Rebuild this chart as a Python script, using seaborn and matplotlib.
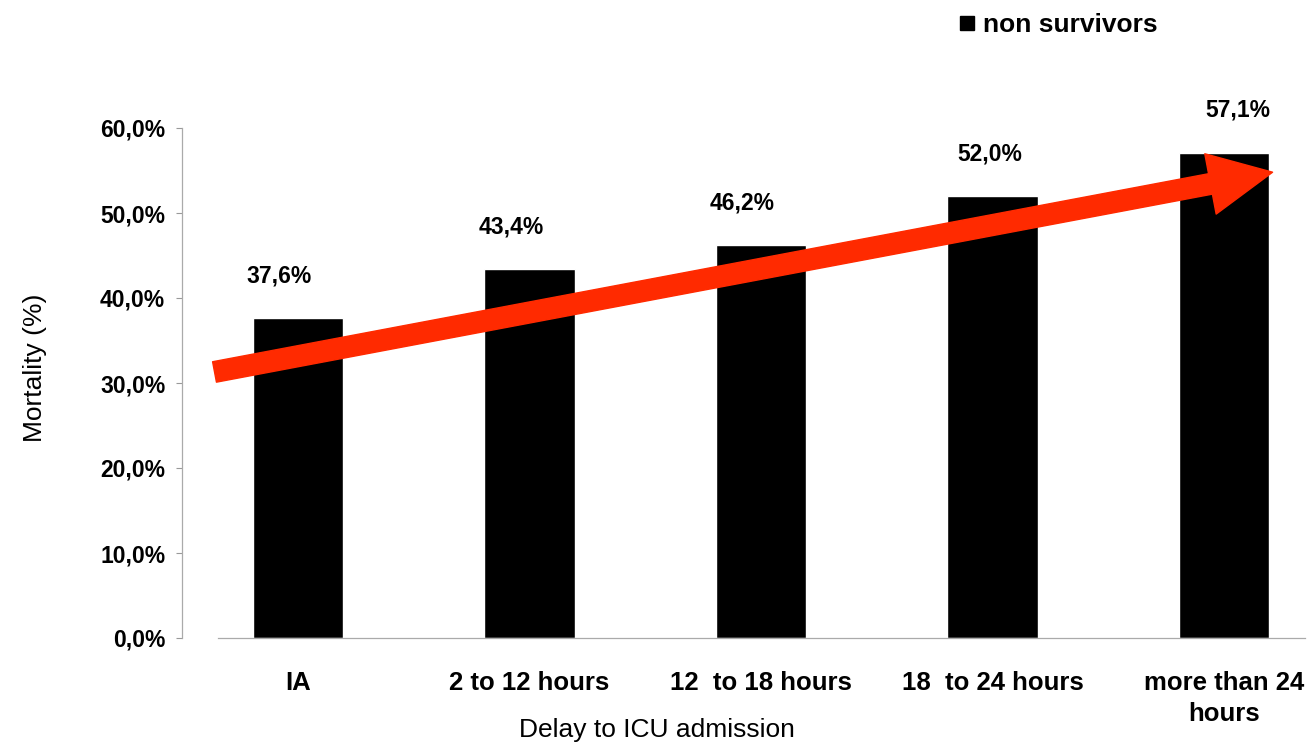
import matplotlib
matplotlib.use("Agg")
import matplotlib.pyplot as plt
from matplotlib.lines import Line2D
from matplotlib.patches import FancyArrowPatch
import seaborn as sns

# dane z wykresu
kategorie = ["IA", "2 to 12 hours", "12  to 18 hours", "18  to 24 hours", "more than 24\nhours"]
smiertelnosc = [37.6, 43.4, 46.2, 52.0, 57.1]
etykiety = ["37,6%", "43,4%", "46,2%", "52,0%", "57,1%"]
yticks = [0, 10, 20, 30, 40, 50, 60]

sns.set_style("white")
plt.rcParams["font.family"] = ["Liberation Sans", "DejaVu Sans"]
plt.rcParams["text.color"] = "black"
plt.rcParams["xtick.color"] = "black"
plt.rcParams["ytick.color"] = "black"

fig = plt.figure(figsize=(13.09, 7.43), dpi=100)
ax = fig.add_axes([218 / 1309, 1 - 638 / 743, (1305 - 218) / 1309, (638 - 128) / 743])

ax.spines["top"].set_visible(False)
ax.spines["right"].set_visible(False)
ax.spines["left"].set_position(("outward", 26))
for s in ["left", "bottom"]:
    ax.spines[s].set_color("#aaaaaa")
    ax.spines[s].set_linewidth(0.9)

sns.barplot(x=kategorie, y=smiertelnosc, color="black", width=0.39, saturation=1, ax=ax)

# etykiety nad słupkami (lekko przesunięte jak w oryginale)
przesuniecia = [-0.08, -0.08, -0.08, -0.01, 0.06]
for i, (v, t) in enumerate(zip(smiertelnosc, etykiety)):
    ax.text(i + przesuniecia[i], v + 5.0, t, ha="center", va="center", fontsize=16.5, fontweight="bold")

ax.set_xlim(-0.345, 4.35)
ax.set_ylim(0, 60)
ax.set_yticks(yticks)
ax.set_yticklabels([f"{t},0%" for t in yticks], fontsize=16.5, fontweight="bold")
ax.tick_params(axis="y", left=True, length=4, width=0.8, color="#999999", labelcolor="black", pad=8)
ax.set_xticks(range(len(kategorie)))
ax.set_xticklabels(kategorie, fontsize=18.5, fontweight="bold", linespacing=1.4)
ax.tick_params(axis="x", bottom=False, labelcolor="black", pad=20)

ax.set_xlabel("")
ax.set_ylabel("")
fig.text(657 / 1309, 1 - 730 / 743, "Delay to ICU admission", ha="center", va="center", fontsize=19)
fig.text(35 / 1309, 1 - 368 / 743, "Mortality (%)", ha="center", va="center", rotation=90, fontsize=19)

# czerwona strzałka trendu
strzalka = FancyArrowPatch((-0.36, 31.3), (4.21, 54.8),
                           arrowstyle="simple,head_width=3.4,head_length=3.5,tail_width=1.15",
                           mutation_scale=13, color="#ff2a00", clip_on=False, zorder=5, shrinkA=0, shrinkB=0)
ax.add_patch(strzalka)

uchwyt = Line2D([], [], marker="s", color="black", linestyle="none", markersize=10)
fig.legend([uchwyt], ["non survivors"], loc="center left", bbox_to_anchor=(930 / 1309, 1 - 25 / 743),
           frameon=False, prop={"weight": "bold", "size": 19}, handletextpad=0.1, handlelength=1.0)

fig.savefig("out.png", dpi=100)
